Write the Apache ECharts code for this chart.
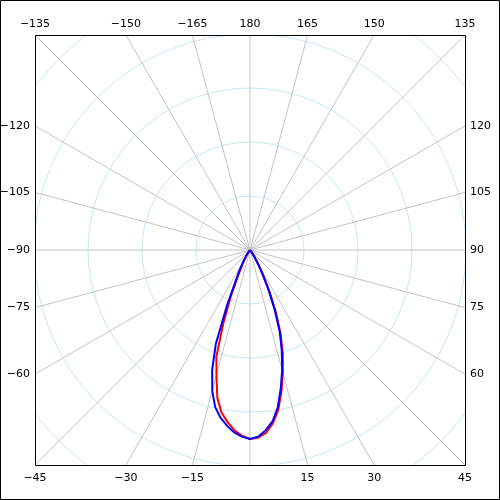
<!DOCTYPE html>
<html>
<head>
<meta charset="utf-8">
<script src="https://cdn.jsdelivr.net/npm/echarts@6/dist/echarts.min.js"></script>
<style>
  html, body { margin: 0; padding: 0; background: #fff; }
  #chart { width: 500px; height: 500px; }
</style>
</head>
<body>
<div id="chart"></div>
<script>
// angles (deg, 0 = straight down, + to the right)
var angles = [-40, -37.5, -35, -32.5, -30, -27.5, -25, -22.5, -20, -17.5, -15, -12.5, -10, -7.5, -5, -2.5,
  0, 2.5, 5, 7.5, 10, 12.5, 15, 17.5, 20, 22.5, 25, 27.5, 30, 32.5, 35, 37.5, 40];
// intensity, red curve
var redValues = [0, 2, 6, 11, 19, 31, 50, 93, 144, 207, 240, 280, 305, 321, 335, 344,
  350, 348, 340, 324, 301, 269, 235, 202, 166, 126, 86, 54, 32, 18, 9, 4, 0];
// intensity, blue curve
var blueValues = [0, 4, 7, 15, 24, 41, 61, 111, 185, 233, 270, 298, 315, 328, 339, 346,
  350, 346, 335, 320, 296, 263, 230, 196, 161, 119, 81, 50, 30, 15, 7, 4, 0];
// labels shown along the frame
var labelAngles = [-165, -150, -135, -120, -105, -90, -75, -60, -45, -30, -15,
  15, 30, 45, 60, 75, 90, 105, 120, 135, 150, 165, 180];

var cx = 250, cy = 250, half = 215;
var font = '11px "DejaVu Sans", sans-serif';

function pairs(vals) {
  return vals.map(function (v, i) { return [v, angles[i]]; });
}

// label placement where each ray meets the frame
var labelGraphics = labelAngles.map(function (a) {
  var rad = a * Math.PI / 180;
  var dx = Math.sin(rad), dy = Math.cos(rad);
  var t = half / Math.max(Math.abs(dx), Math.abs(dy));
  var px = cx + t * dx, py = cy + t * dy;
  var txt = String(a).replace('-', '\u2212');
  var st = { text: txt, font: font, fill: '#000', textVerticalAlign: 'middle' };
  if (Math.abs(dy) >= Math.abs(dx) - 1e-9) {
    st.x = px; st.y = dy < 0 ? 24 : 478; st.textAlign = 'center';
  } else if (dx < 0) {
    st.x = 30; st.y = py; st.textAlign = 'right';
  } else {
    st.x = 470; st.y = py; st.textAlign = 'left';
  }
  return { type: 'text', z: 102, silent: true, style: st };
});

var chart = echarts.init(document.getElementById('chart'));

var option = {
  animation: false,
  backgroundColor: '#fff',
  polar: {
    center: [cx, cy],
    radius: 324
  },
  radiusAxis: {
    type: 'value',
    min: 0,
    max: 600,
    interval: 100,
    axisLine: { show: false },
    axisTick: { show: false },
    axisLabel: { show: false },
    splitLine: { show: true, lineStyle: { color: '#cde6ee', width: 1 } }
  },
  angleAxis: {
    type: 'value',
    min: -180,
    max: 180,
    interval: 15,
    startAngle: 90,
    clockwise: false,
    axisLine: { show: false },
    axisTick: { show: false },
    axisLabel: { show: false },
    splitLine: { show: true, lineStyle: { color: '#c4c4c4', width: 1 } }
  },
  series: [
    {
      name: 'red',
      type: 'line',
      coordinateSystem: 'polar',
      showSymbol: false,
      lineStyle: { color: '#ff0000', width: 2 },
      data: pairs(redValues)
    },
    {
      name: 'blue',
      type: 'line',
      coordinateSystem: 'polar',
      showSymbol: false,
      lineStyle: { color: '#0000ff', width: 2 },
      data: pairs(blueValues)
    }
  ],
  graphic: [
    // white frame hiding the grid outside the plot box
    { type: 'rect', z: 100, silent: true, shape: { x: 0, y: 0, width: 500, height: 35 }, style: { fill: '#fff' } },
    { type: 'rect', z: 100, silent: true, shape: { x: 0, y: 466, width: 500, height: 34 }, style: { fill: '#fff' } },
    { type: 'rect', z: 100, silent: true, shape: { x: 0, y: 0, width: 35, height: 500 }, style: { fill: '#fff' } },
    { type: 'rect', z: 100, silent: true, shape: { x: 466, y: 0, width: 34, height: 500 }, style: { fill: '#fff' } },
    { type: 'rect', z: 101, silent: true, shape: { x: 35.5, y: 35.5, width: 430, height: 430 }, style: { fill: 'none', stroke: '#000', lineWidth: 1 } },
    { type: 'rect', z: 101, silent: true, shape: { x: 0.5, y: 0.5, width: 499, height: 499 }, style: { fill: 'none', stroke: '#000', lineWidth: 1 } }
  ].concat(labelGraphics)
};

chart.setOption(option);
</script>
</body>
</html>
